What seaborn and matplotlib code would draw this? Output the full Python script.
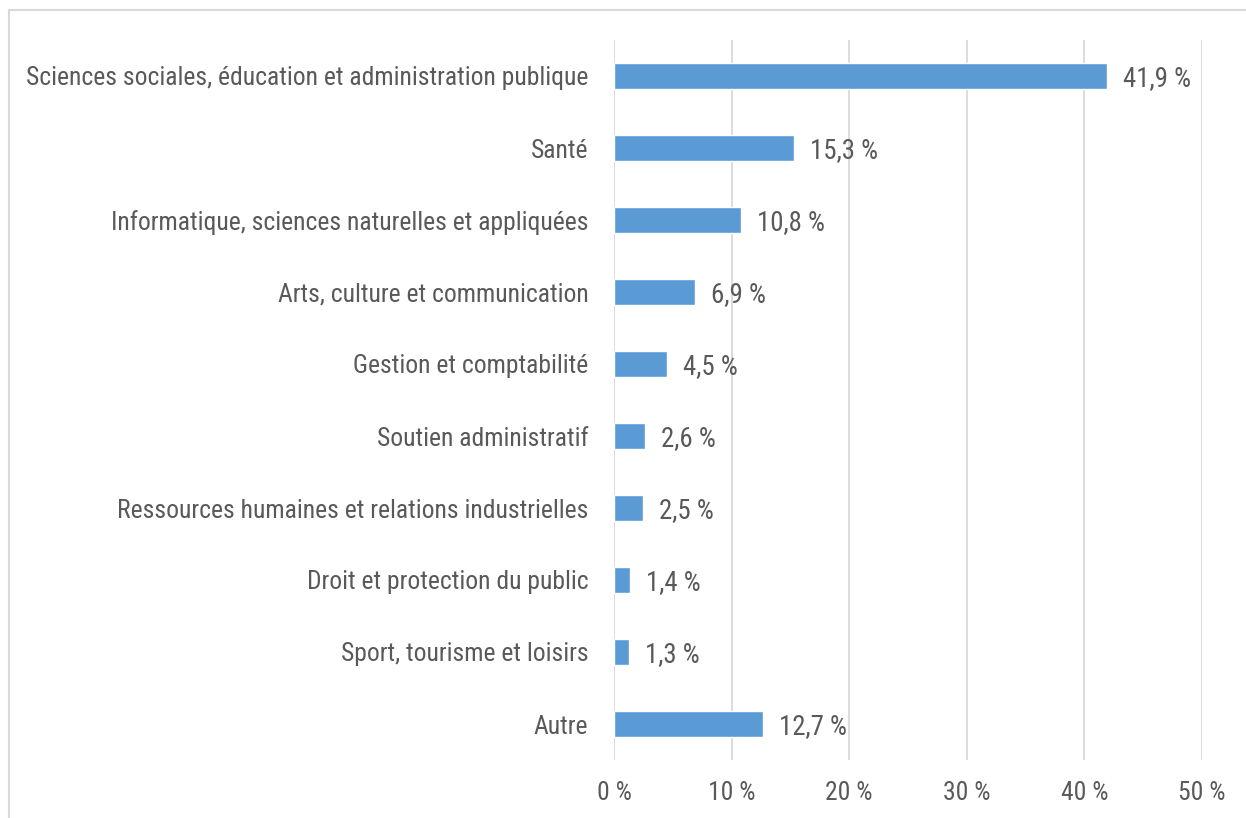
import matplotlib
matplotlib.use("Agg")
import matplotlib.pyplot as plt
import matplotlib.font_manager as fm
import seaborn as sns
import pandas as pd

categories = [
    "Sciences sociales, éducation et administration publique",
    "Santé",
    "Informatique, sciences naturelles et appliquées",
    "Arts, culture et communication",
    "Gestion et comptabilité",
    "Soutien administratif",
    "Ressources humaines et relations industrielles",
    "Droit et protection du public",
    "Sport, tourisme et loisirs",
    "Autre",
]
values = [41.9, 15.3, 10.8, 6.9, 4.5, 2.6, 2.5, 1.4, 1.3, 12.7]
xticks = [0, 10, 20, 30, 40, 50]

df = pd.DataFrame({"cat": categories, "val": values})

sns.set_theme(style="white")

# look for a narrow font like Arial Narrow, otherwise shrink Liberation Sans
names = {f.name for f in fm.fontManager.ttflist}
fam = "Liberation Sans"
for cand in ["Liberation Sans Narrow", "Arial Narrow", "Roboto Condensed",
             "Open Sans Condensed", "DejaVu Sans Condensed"]:
    if cand in names:
        fam = cand
        break
plt.rcParams["font.family"] = [fam, "DejaVu Sans"]
text_col = "#595959"

fig = plt.figure(figsize=(12.46, 8.18), dpi=100)

# pick a size so the longest label spans ~561 px as in the source
r = fig.canvas.get_renderer()
t = fig.text(0, 0, categories[0], fontsize=21)
w = t.get_window_extent(r).width
t.remove()
fs = min(21, 21 * 561 / w)

ax = fig.add_axes([614 / 1246, 1 - 760 / 818, 588 / 1246, 720 / 818])

sns.barplot(data=df, x="val", y="cat", color="#5B9BD5", width=0.35,
            saturation=1, orient="h", ax=ax, zorder=3)

ax.set_xlim(0, 50)
ax.set_xticks(xticks)
ax.set_xticklabels([f"{t} %" for t in xticks])
ax.grid(axis="x", color="#D9D9D9", linewidth=1.3, zorder=0)
ax.set_axisbelow(True)
for s in ax.spines.values():
    s.set_visible(False)
ax.tick_params(axis="both", length=0, labelsize=fs, labelcolor=text_col)
ax.tick_params(axis="x", pad=15)
ax.tick_params(axis="y", pad=18.5)
ax.set_xlabel("")
ax.set_ylabel("")

for i, v in enumerate(values):
    ax.annotate(f"{v:.1f} %".replace(".", ","), (v, i), xytext=(16, 0),
                textcoords="offset pixels", va="center_baseline", ha="left",
                fontsize=fs * 1.05, color=text_col)

# outer chart frame (cut off at right and bottom like the source)
fig.patches.append(plt.Rectangle((9 / 1246, -0.1), 1.2, 1 - 10 / 818 + 0.1,
                                 transform=fig.transFigure, fill=False,
                                 edgecolor="#D9D9D9", linewidth=1.5))

fig.savefig("out.png", dpi=100)
